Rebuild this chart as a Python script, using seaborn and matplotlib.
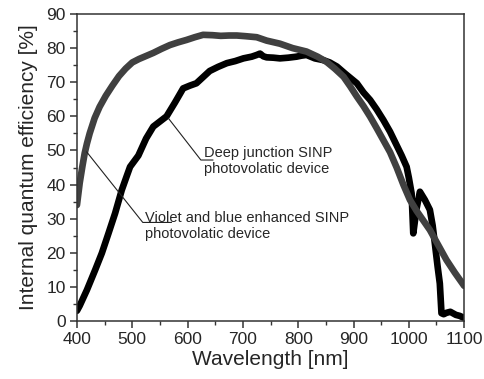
import matplotlib
matplotlib.use("Agg")
import matplotlib.pyplot as plt
import seaborn as sns
import pandas as pd

# Violet and blue enhanced SINP device (black curve)
wl_violet = [400, 405, 418, 433, 445, 457, 469, 481, 490, 496, 511, 525, 538, 550,
             562, 577, 592, 604, 616, 628, 640, 655, 671, 686, 701, 716, 725, 731,
             737, 743, 755, 767, 782, 797, 806, 815, 830, 845, 857, 870, 885, 906,
             918, 930, 942, 954, 966, 978, 987, 996, 1000, 1005, 1008, 1014, 1020,
             1029, 1038, 1043, 1047, 1052, 1056, 1059, 1063, 1068, 1075, 1085, 1092,
             1100]
iqe_violet = [3.0, 4.5, 9.1, 15.0, 19.9, 25.7, 31.6, 38.4, 42.5, 45.2, 48.5, 53.5,
              57.0, 58.5, 60.0, 64.0, 68.2, 69.0, 69.7, 71.5, 73.3, 74.5, 75.6, 76.2,
              77.0, 77.5, 78.0, 78.4, 77.6, 77.3, 77.2, 77.0, 77.2, 77.5, 77.8, 78.0,
              77.0, 76.5, 75.8, 74.6, 72.5, 69.7, 67.0, 64.8, 62.0, 58.9, 55.5, 51.5,
              48.5, 45.2, 42.0, 37.4, 25.7, 33.0, 37.9, 35.5, 32.6, 28.0, 22.8, 16.0,
              11.0, 2.3, 2.0, 2.4, 2.7, 1.8, 1.5, 0.9]

# Deep junction SINP device (grey curve)
wl_deep = [400, 405, 410, 414, 418, 423, 432, 441, 452, 464, 476, 488, 500, 512,
           525, 538, 553, 568, 583, 598, 613, 628, 645, 660, 675, 689, 705, 725,
           743, 767, 790, 815, 835, 851, 866, 882, 894, 906, 918, 930, 942, 954,
           966, 978, 990, 1002, 1014, 1026, 1038, 1053, 1068, 1083, 1100]
iqe_deep = [34.0, 40.5, 45.5, 49.2, 52.0, 55.0, 59.5, 62.8, 66.0, 69.0, 71.8, 74.0,
            75.8, 76.8, 77.7, 78.6, 79.8, 80.9, 81.7, 82.4, 83.2, 83.9, 83.8, 83.6,
            83.7, 83.7, 83.5, 83.2, 82.2, 81.3, 80.0, 79.0, 77.5, 76.0, 74.0, 71.6,
            68.8, 65.8, 63.0, 59.9, 56.5, 53.0, 49.5, 45.0, 40.0, 35.5, 32.3, 29.5,
            26.7, 22.3, 17.9, 14.2, 10.3]

x_ticks = [400, 500, 600, 700, 800, 900, 1000, 1100]
y_ticks = [0, 10, 20, 30, 40, 50, 60, 70, 80, 90]

deep_label = "Deep junction SINP\nphotovolatic device"
violet_label = "Violet and blue enhanced SINP\nphotovolatic device"

# leader lines for the two callouts (curve point -> elbow -> underline end)
deep_leader_x = [565, 624, 646]
deep_leader_y = [59.5, 47.2, 47.2]
violet_leader_x = [417.5, 519, 571]
violet_leader_y = [49.6, 28.9, 28.9]

sns.set_style("ticks")
plt.rcParams["font.family"] = ["Liberation Sans", "DejaVu Sans"]

fig = plt.figure(figsize=(4.84, 3.79), dpi=100)
ax = fig.add_axes([0.159, 0.153, 0.8, 0.81])

df_v = pd.DataFrame({"wl": wl_violet, "iqe": iqe_violet})
df_d = pd.DataFrame({"wl": wl_deep, "iqe": iqe_deep})

sns.lineplot(data=df_v, x="wl", y="iqe", ax=ax, color="black", linewidth=4.8,
             sort=False)
sns.lineplot(data=df_d, x="wl", y="iqe", ax=ax, color="#404040", linewidth=4.8,
             sort=False)

ax.plot(deep_leader_x, deep_leader_y, color="#222222", linewidth=0.8)
ax.plot(violet_leader_x, violet_leader_y, color="#222222", linewidth=0.8)
ax.text(630, 46.9, deep_label, fontsize=10.5, va="center", ha="left", linespacing=1.15)
ax.text(523, 27.9, violet_label, fontsize=10.5, va="center", ha="left", linespacing=1.15)

ax.set_xlim(400, 1100)
ax.set_ylim(0, 90)
ax.set_xticks(x_ticks)
ax.set_yticks(y_ticks)
ax.set_xticks(range(450, 1100, 100), minor=True)
ax.set_yticks(range(5, 90, 10), minor=True)
ax.tick_params(axis="both", which="major", direction="out", length=5, width=1.1,
               labelsize=12.5, color="#333333", pad=3)
ax.tick_params(axis="both", which="minor", direction="out", length=3, width=1.0,
               color="#333333")
ax.tick_params(top=False, right=False, which="both")

ax.set_xlabel("Wavelength [nm]", fontsize=15, labelpad=2)
ax.set_ylabel("Internal quantum efficiency [%]", fontsize=15, labelpad=6)

for side in ["left", "right", "top", "bottom"]:
    ax.spines[side].set_visible(True)
    ax.spines[side].set_linewidth(1.1)
    ax.spines[side].set_color("#333333")

fig.savefig("out.png", dpi=100)
